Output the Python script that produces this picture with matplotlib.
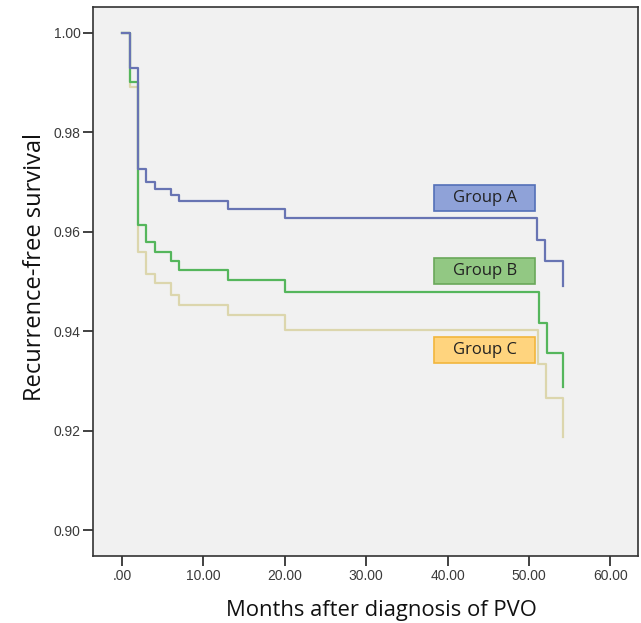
import matplotlib
matplotlib.use("Agg")
import matplotlib.pyplot as plt
from matplotlib.patches import Rectangle

# Data (Kaplan-Meier step curves)
time_a = [0, 1, 2, 3, 4, 6, 7, 13, 20, 51.0, 52.0, 54.2]
surv_a = [1.0, 0.993, 0.9726, 0.9700, 0.9686, 0.9674, 0.9661, 0.9646, 0.9628, 0.9584, 0.9542, 0.9491]
time_b = [0, 1, 2, 3, 4, 6, 7, 13, 20, 51.2, 52.2, 54.2]
surv_b = [1.0, 0.9902, 0.9614, 0.9579, 0.9560, 0.9542, 0.9523, 0.9503, 0.9478, 0.9416, 0.9357, 0.9288]
time_c = [0, 1, 2, 3, 4, 6, 7, 13, 20, 51.1, 52.1, 54.2]
surv_c = [1.0, 0.9892, 0.9560, 0.9516, 0.9496, 0.9473, 0.9453, 0.9433, 0.9402, 0.9335, 0.9265, 0.9188]

group_names = ["Group A", "Group B", "Group C"]
label_y = [0.9668, 0.9521, 0.9362]

x_ticks = [0, 10, 20, 30, 40, 50, 60]
x_tick_labels = [".00", "10.00", "20.00", "30.00", "40.00", "50.00", "60.00"]
y_ticks = [0.90, 0.92, 0.94, 0.96, 0.98, 1.00]
y_tick_labels = ["0.90", "0.92", "0.94", "0.96", "0.98", "1.00"]

line_colors = ["#6874b3", "#55b65c", "#dcd6ad"]
box_faces = ["#8fa2d8", "#92c883", "#ffd47e"]
box_edges = ["#5470b8", "#6aa85a", "#f2b63c"]

fig = plt.figure(figsize=(6.41, 6.23), dpi=100)
ax = fig.add_axes([0.1451, 0.1075, 0.8502, 0.8813])
ax.set_facecolor("#f1f1f1")

ax.step(time_c, surv_c, where="post", color=line_colors[2], lw=1.6)
ax.step(time_b, surv_b, where="post", color=line_colors[1], lw=1.6)
ax.step(time_a, surv_a, where="post", color=line_colors[0], lw=1.6)

ax.set_xlim(-3.56, 63.4)
ax.set_ylim(0.8948, 1.0052)

ax.set_xticks(x_ticks)
ax.set_xticklabels(x_tick_labels, fontsize=10, family="Liberation Sans", color="#3a3a3a")
ax.set_yticks(y_ticks)
ax.set_yticklabels(y_tick_labels, fontsize=10, family="Liberation Sans", color="#3a3a3a")
ax.tick_params(direction="out", length=7, width=1.3, color="#333333", pad=2)

for sp in ax.spines.values():
    sp.set_color("#333333")
    sp.set_linewidth(1.2)

# Group labels
box_x0, box_w, box_h = 38.3, 12.5, 0.0052
for name, yc, fc, ec in zip(group_names, label_y, box_faces, box_edges):
    ax.add_patch(Rectangle((box_x0, yc - box_h / 2), box_w, box_h,
                           facecolor=fc, edgecolor=ec, lw=1.2, zorder=3))
    ax.text(box_x0 + box_w / 2, yc, name, ha="center", va="center",
            fontsize=12, family="Open Sans", color="#222222", zorder=4)

ax.set_xlabel("Months after diagnosis of PVO", fontsize=15.8, family="Open Sans",
              color="#111111", va="center")
ax.xaxis.set_label_coords(0.530, -0.0984)
ax.set_ylabel("Recurrence-free survival", fontsize=17, family="Open Sans",
              color="#111111", va="center")
ax.yaxis.set_label_coords(-0.106, 0.526)

fig.savefig("out.png", dpi=100, facecolor="white")
